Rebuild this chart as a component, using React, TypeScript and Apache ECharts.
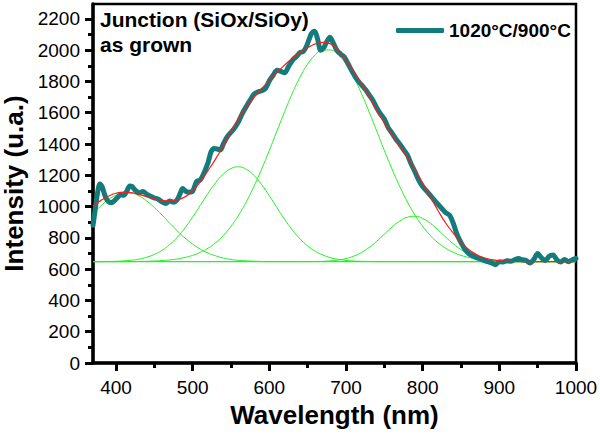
import React, { useEffect, useRef } from 'react';
import * as echarts from 'echarts';

// ---- data ----
const seriesName = '1020°C/900°C';

// measured spectrum (wavelength nm, intensity u.a.)
const measuredWavelength = [370,373,376,379,382,386,390,394,398,402,406,410,414,418,421,425,430,435,440,445,450,455,460,465,470,475,480,484,487,491,495,500,505,510,515,520,524,528,532,536,540,545,550,555,560,565,570,575,580,585,590,595,600,605,610,615,620,625,631,636,640,644,648,652,655,659,663,667,671,675,679,683,688,693,698,703,709,714,718,722,726,730,735,740,745,750,755,760,765,770,775,780,785,790,795,800,805,810,815,820,825,830,835,840,845,850,855,860,865,870,875,880,885,890,895,900,905,910,915,920,925,930,935,940,945,950,955,960,965,970,975,980,985,990,995,1000];
const measuredIntensity = [880,985,1090,1145,1125,1065,1032,1025,1038,1058,1075,1072,1098,1132,1128,1105,1088,1096,1080,1066,1055,1047,1030,1020,1036,1028,1045,1088,1115,1098,1092,1098,1160,1170,1218,1280,1350,1372,1368,1362,1400,1445,1475,1505,1545,1598,1640,1680,1718,1733,1740,1755,1805,1840,1872,1865,1855,1895,1940,1962,1985,1990,2020,2070,2107,2120,2070,2000,2015,2055,2082,2050,2000,1975,1955,1910,1855,1815,1790,1768,1745,1715,1680,1632,1592,1560,1505,1470,1432,1400,1365,1330,1272,1222,1168,1128,1100,1072,1042,1015,988,962,945,892,820,770,728,700,686,674,666,656,648,640,628,648,645,654,650,660,668,660,655,640,662,700,672,655,683,690,660,645,662,648,660,668];

// common wavelength grid for the fitted curves
const fitWavelength = [370,380,390,400,410,420,430,440,450,460,470,480,490,500,510,520,530,540,550,560,570,580,590,600,610,620,630,640,650,660,670,680,690,700,710,720,730,740,750,760,770,780,790,800,810,820,830,840,850,860,870,880,890,900,910,920,930,940,950,960,970,980,990,1000];

// cumulative fit (red)
const fitTotal = [1004,1038,1066,1085,1093,1090,1078,1063,1050,1040,1036,1042,1062,1100,1160,1230,1305,1390,1478,1562,1638,1700,1755,1805,1858,1905,1948,1985,2015,2040,2050,2040,1995,1935,1865,1788,1705,1618,1535,1460,1388,1315,1235,1150,1063,975,895,830,772,726,694,673,661,654,651,649,648,648,648,648,648,648,648,648];

// gaussian components (green)
const peak1 = [956,1003,1044,1072,1087,1085,1068,1036,994,946,894,845,799,760,728,703,685,671,662,656,653,651,649,648,648,648,648,648,648,648,648,648,648,648,648,648,648,648,648,648,648,648,648,648,648,648,648,648,648,648,648,648,648,648,648,648,648,648,648,648,648,648,648,648];
const peak2 = [648,648,649,650,653,657,664,676,694,720,757,804,864,933,1008,1084,1153,1208,1243,1254,1238,1199,1140,1069,993,918,851,794,748,714,690,673,663,656,652,650,649,648,648,648,648,648,648,648,648,648,648,648,648,648,648,648,648,648,648,648,648,648,648,648,648,648,648,648];
const peak3 = [648,648,648,648,648,648,649,650,652,655,659,665,675,688,708,734,769,815,874,945,1031,1130,1240,1359,1484,1607,1724,1827,1911,1970,2001,2001,1970,1911,1827,1724,1607,1484,1359,1240,1130,1031,945,874,815,769,734,708,688,675,665,659,655,652,650,649,648,648,648,648,648,648,648,648];
const peak4 = [648,648,648,648,648,648,648,648,648,648,648,648,648,648,648,648,648,648,648,648,648,648,648,648,648,648,648,648,648,649,650,653,658,668,683,706,738,778,824,869,907,932,938,924,893,851,805,762,725,696,676,663,656,652,650,648,648,648,648,648,648,648,648,648];

// baseline of the fit
const baselineWavelength = [370, 1000];
const baselineIntensity = [648, 648];

// axis ticks
const xMajorTicks = [400, 500, 600, 700, 800, 900, 1000];
const xMinorTicks = [450, 550, 650, 750, 850, 950];
const yMajorTicks = [0, 200, 400, 600, 800, 1000, 1200, 1400, 1600, 1800, 2000, 2200];
const yMinorTicks = [100, 300, 500, 700, 900, 1100, 1300, 1500, 1700, 1900, 2100];

const FONT = '"Liberation Sans", Arial, Helvetica, sans-serif';

const pairs = (xs: number[], ys: number[]) => xs.map((x, i) => [x, ys[i]]);
const plain = (v: number) => String(v);

export default function App() {
  const ref = useRef<HTMLDivElement>(null);

  useEffect(() => {
    document.body.style.margin = '0';
    const chart = echarts.init(ref.current as HTMLDivElement, null, { renderer: 'svg' });

    const green = '#22f022';
    const greenLine = (name: string, ys: number[]) => ({
      name,
      type: 'line',
      data: pairs(fitWavelength, ys),
      smooth: true,
      showSymbol: false,
      symbol: 'none',
      silent: true,
      lineStyle: { color: green, width: 1 },
      z: 2,
    });

    const option: any = {
      animation: false,
      backgroundColor: '#fff',
      grid: {
        left: 93,
        right: 24,
        top: 4,
        bottom: 74,
        containLabel: false,
        outerBoundsMode: 'none',
        show: true,
        borderColor: '#000',
        borderWidth: 2.5,
        backgroundColor: 'transparent',
      },
      legend: {
        show: true,
        data: [seriesName],
        left: 391,
        top: 16,
        icon: 'roundRect',
        itemWidth: 48,
        itemHeight: 5,
        textStyle: { fontSize: 19, fontWeight: 'bold', color: '#000', fontFamily: FONT },
      },
      graphic: [
        {
          type: 'text',
          left: 100,
          top: 9,
          style: { text: 'Junction (SiOx/SiOy)', font: `bold 21px ${FONT}`, fill: '#000' },
        },
        {
          type: 'text',
          left: 100,
          top: 34,
          style: { text: 'as grown', font: `bold 21px ${FONT}`, fill: '#000' },
        },
      ],
      xAxis: [
        {
          type: 'value',
          min: 370,
          max: 1000,
          position: 'bottom',
          name: 'Wavelength (nm)',
          nameLocation: 'middle',
          nameGap: 38,
          nameTextStyle: { fontSize: 26, fontWeight: 'bold', color: '#000', fontFamily: FONT },
          axisLine: { show: true, onZero: false, lineStyle: { color: '#000', width: 3.5 } },
          axisTick: { show: true, length: 8, lineStyle: { color: '#000', width: 3 }, customValues: xMajorTicks },
          axisLabel: { customValues: xMajorTicks, formatter: plain, fontSize: 19, color: '#000', margin: 15, fontFamily: FONT },
          splitLine: { show: false },
        },
        {
          type: 'value',
          min: 370,
          max: 1000,
          position: 'bottom',
          axisLine: { show: false },
          axisTick: { show: true, length: 5, lineStyle: { color: '#000', width: 3 }, customValues: xMinorTicks },
          axisLabel: { show: false },
          splitLine: { show: false },
        },
      ],
      yAxis: [
        {
          type: 'value',
          min: 0,
          max: 2295,
          position: 'left',
          name: 'Intensity (u.a.)',
          nameLocation: 'middle',
          nameGap: 61,
          nameTextStyle: { fontSize: 26, fontWeight: 'bold', color: '#000', fontFamily: FONT },
          axisLine: { show: true, onZero: false, lineStyle: { color: '#000', width: 3.5 } },
          axisTick: { show: true, length: 8, lineStyle: { color: '#000', width: 3 }, customValues: yMajorTicks },
          axisLabel: { customValues: yMajorTicks, formatter: plain, fontSize: 19, color: '#000', margin: 13, fontFamily: FONT },
          splitLine: { show: false },
        },
        {
          type: 'value',
          min: 0,
          max: 2295,
          position: 'left',
          axisLine: { show: false },
          axisTick: { show: true, length: 5, lineStyle: { color: '#000', width: 3 }, customValues: yMinorTicks },
          axisLabel: { show: false },
          splitLine: { show: false },
        },
      ],
      series: [
        greenLine('peak1', peak1),
        greenLine('peak2', peak2),
        greenLine('peak3', peak3),
        greenLine('peak4', peak4),
        {
          name: 'baseline',
          type: 'line',
          data: pairs(baselineWavelength, baselineIntensity),
          showSymbol: false,
          symbol: 'none',
          silent: true,
          lineStyle: { color: green, width: 1 },
          z: 2,
        },
        {
          name: seriesName,
          type: 'line',
          data: pairs(measuredWavelength, measuredIntensity),
          smooth: 0.3,
          showSymbol: false,
          symbol: 'none',
          silent: true,
          color: '#137b7b',
          lineStyle: { color: '#137b7b', width: 5, cap: 'round', join: 'round' },
          z: 3,
        },
        {
          name: 'fit',
          type: 'line',
          data: pairs(fitWavelength, fitTotal),
          smooth: true,
          showSymbol: false,
          symbol: 'none',
          silent: true,
          lineStyle: { color: '#ff1a1a', width: 1.2 },
          z: 4,
        },
      ],
    };

    chart.setOption(option);
    return () => chart.dispose();
  }, []);

  return <div ref={ref} style={{ width: 600, height: 437 }} />;
}
